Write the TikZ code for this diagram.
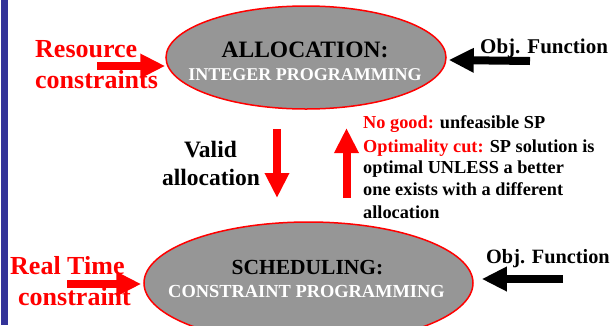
\documentclass[tikz,border=0pt]{standalone}
\usepackage{fontspec}
\setmainfont{Liberation Serif}
\usetikzlibrary{shapes.geometric,arrows.meta}
\definecolor{ellgray}{HTML}{969696}
\definecolor{barblue}{HTML}{333399}
\definecolor{myred}{HTML}{FF0000}
\newcommand\fsz[1]{\fontsize{#1}{#1}\selectfont}
\begin{document}
\begin{tikzpicture}[x=1pt,y=-1pt,
  oval/.style={ellipse, draw=myred, line width=1.5pt, fill=ellgray, inner sep=0pt},
  txt/.style={inner sep=0pt, font=\bfseries},
  fat/.style={line width=8pt, -{Triangle[width=23pt,length=25pt]}},
]
\useasboundingbox (0,0) rectangle (611,325);
\clip (0,0) rectangle (611,325);
\fill[barblue] (0.5,0) rectangle (7.5,325);

% ellipses
\node[oval, minimum width=280pt, minimum height=103pt] (alloc) at (306,57.5) {};
\node[oval, minimum width=329pt, minimum height=122pt] (sched) at (308.5,283) {};

% ellipse texts
\node[txt, anchor=base] (allocT) at (305,57) {\fsz{23.5}ALLOCATION:};
\node[txt, anchor=base, text=white] (ipT) at (305,80) {\fsz{18}INTEGER PROGRAMMING};
\node[txt, anchor=base] (schedT) at (307.5,274) {\fsz{21.5}SCHEDULING:};
\node[txt, anchor=base, text=white] (cpT) at (306.5,297) {\fsz{18.4}CONSTRAINT PROGRAMMING};

% left labels
\node[txt, anchor=base west, text=myred] (res1) at (35,57) {\fsz{26}Resource};
\node[txt, anchor=base west, text=myred] (res2) at (35,88) {\fsz{26}constraints};
\node[txt, anchor=base west, text=myred] (rt1) at (10,274) {\fsz{26}Real Time};
\node[txt, anchor=base west, text=myred] (rt2) at (18,305) {\fsz{26}constraint};

% right labels
\node[txt, anchor=base west] (of1) at (480,53) {\fsz{21}Obj. Function};
\node[txt, anchor=base west] (of2) at (486,263) {\fsz{20.3}Obj. Function};

% middle labels
\node[txt, anchor=base] (va1) at (210.5,157) {\fsz{23.5}Valid};
\node[txt, anchor=base] (va2) at (211,185) {\fsz{23.5}allocation};

\node[txt, anchor=base west] (ng1) at (363,128) {\fsz{18.3}\textcolor{myred}{No good:} unfeasible SP};
\node[txt, anchor=base west] (ng2) at (363,152) {\fsz{18.3}\textcolor{myred}{Optimality cut:} SP solution is};
\node[txt, anchor=base west] (ng3) at (363,173) {\fsz{18.3}optimal UNLESS a better};
\node[txt, anchor=base west] (ng4) at (363,195) {\fsz{18.3}one exists with a different};
\node[txt, anchor=base west] (ng5) at (363,218) {\fsz{18.3}allocation};

% arrows
\coordinate (rcS) at (97,66);
\draw[fat, myred] (rcS) -- ([yshift=-8.5pt]alloc.west);
\coordinate (ofS1) at (530,61);
\draw[fat, black] (ofS1) -- ([xshift=2pt,yshift=-2.5pt]alloc.east);
\coordinate (rtS) at (67,284);
\draw[fat, myred] (rtS) -- ([xshift=-2pt,yshift=-1pt]sched.west);
\coordinate (ofS2) at (563,279);
\draw[fat, black] (ofS2) -- ([xshift=8pt,yshift=4pt]sched.east);
\coordinate (vdS) at (277,129);
\coordinate (vdE) at (277,198);
\draw[fat, myred] (vdS) -- (vdE);
\coordinate (upS) at (346.5,198);
\coordinate (upE) at (346.5,128);
\draw[fat, myred] (upS) -- (upE);
\end{tikzpicture}
\end{document}
